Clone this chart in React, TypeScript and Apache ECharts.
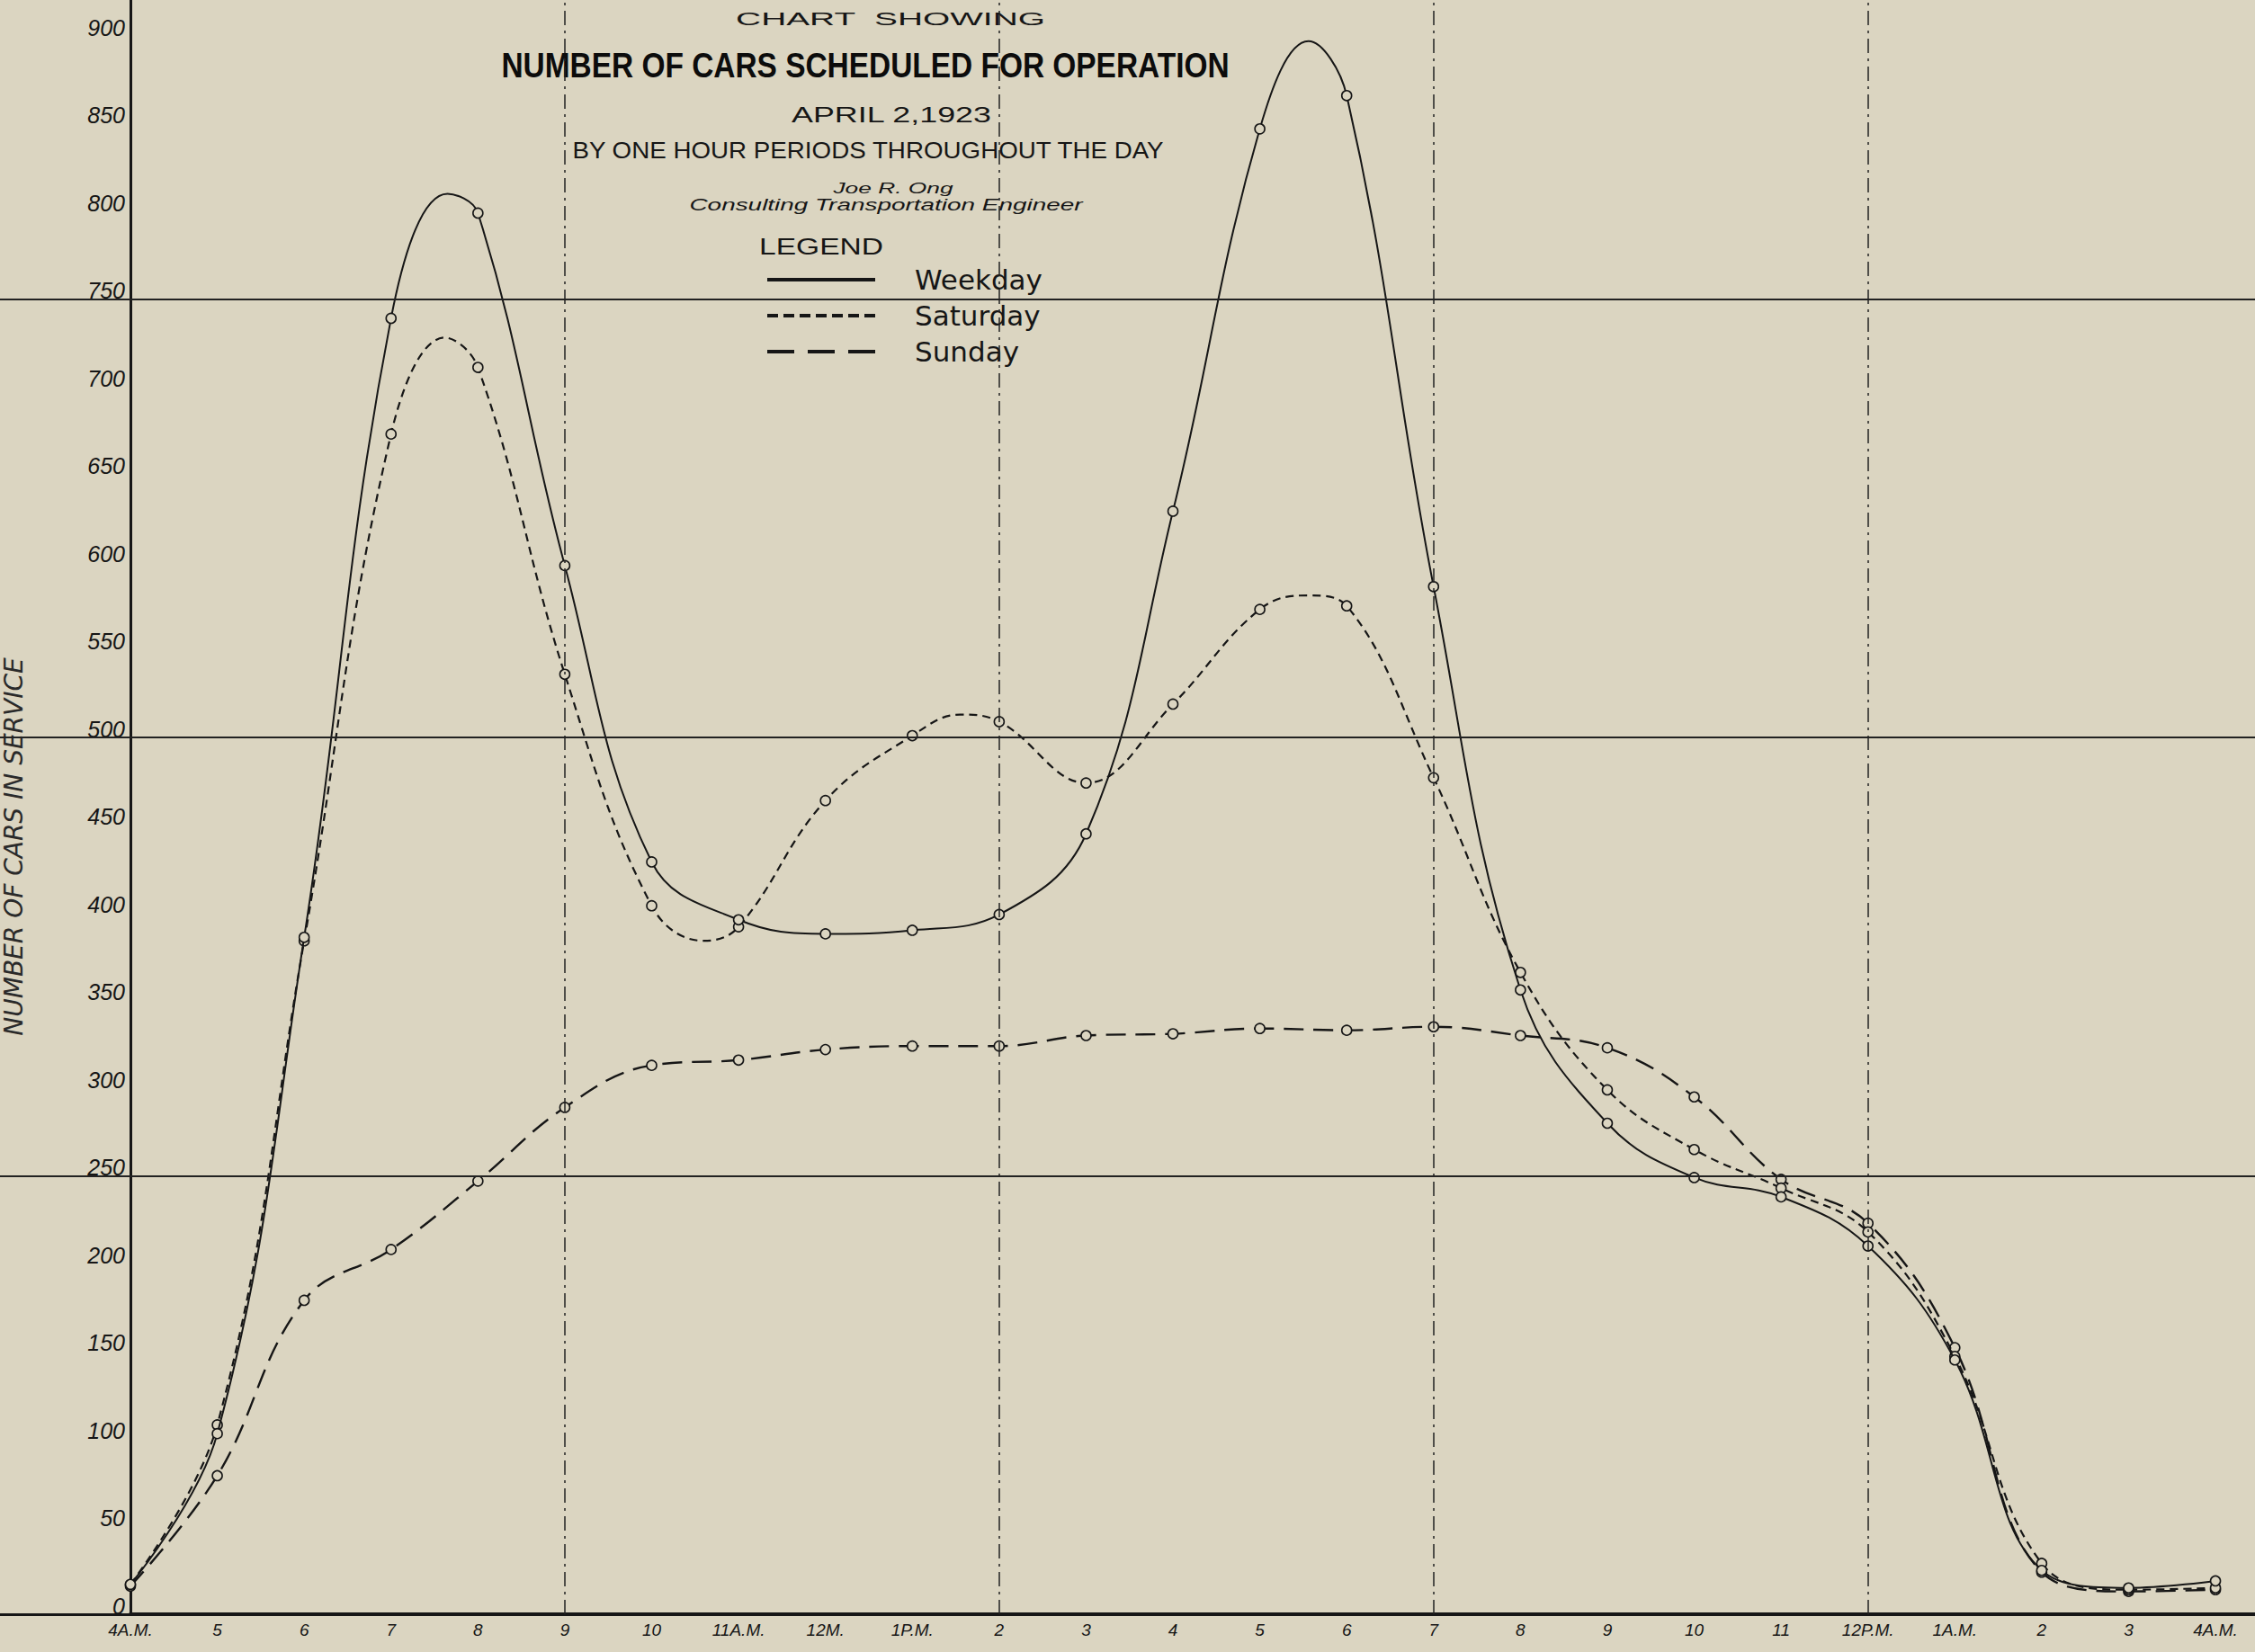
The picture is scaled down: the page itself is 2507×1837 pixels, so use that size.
import React, { useEffect, useRef } from 'react';
import * as echarts from 'echarts';

// ---- data ----
const hourLabels = [
  '4A.M.', '5', '6', '7', '8', '9', '10', '11A.M.', '12M.', '1P.M.', '2', '3', '4',
  '5', '6', '7', '8', '9', '10', '11', '12P.M.', '1A.M.', '2', '3', '4A.M.',
];
const hourOffsets = hourLabels.map((_, i) => i);

const weekdayHourly = [17, 103, 386, 739, 799, 598, 429, 396, 388, 390, 399, 445, 629, 847, 866, 586, 356, 280, 249, 238, 210, 145, 25, 15, 19];
const saturdayHourly = [17, 108, 384, 673, 711, 536, 404, 392, 464, 501, 509, 474, 519, 573, 575, 477, 366, 299, 265, 243, 218, 147, 29, 14, 15];
const sundayHourly = [16, 79, 179, 208, 247, 289, 313, 316, 322, 324, 324, 330, 331, 334, 333, 335, 330, 323, 295, 248, 223, 152, 24, 13, 14];

// crests / troughs of the drawn curves between hourly readings: [hour offset, cars]
const weekdayCrests: [number, number][] = [[3.65, 810], [13.56, 897]];
const saturdayCrests: [number, number][] = [[3.62, 728], [6.6, 384], [9.55, 513], [13.55, 581]];
const sundayCrests: [number, number][] = [];

const gridValues = [250, 500, 750];
const guideHours = [5, 10, 15, 20];
const yTickMax = 900;

const seriesNames = ['Weekday', 'Saturday', 'Sunday'];

// ---- styles ----
const BG = '#dbd5c1';
const INK = '#161616';
const SANS = '"Liberation Sans", Arial, sans-serif';
const WIDE = '"DejaVu Sans", "Liberation Sans", sans-serif';

const X_MAX = 24.455;
const Y_MAX = 920.5;
const AXIS_LEFT = 145;
const AXIS_BOTTOM = 42;

function buildData(hourly: number[], crests: [number, number][]) {
  const pts: any[] = hourly.map((v, i) => ({ value: [i, v] }));
  crests.forEach(([h, v]) => pts.push({ value: [h, v], symbol: 'none' }));
  pts.sort((a, b) => a.value[0] - b.value[0]);
  return pts;
}

function dashPath(dash: number, gap: number, total: number, h: number) {
  let d = '';
  for (let x = 0; x < total; x += dash + gap) {
    const e = Math.min(x + dash, total);
    d += `M${x},0H${e}V${h}H${x}Z `;
  }
  return 'path://' + d.trim();
}

export default function App() {
  const ref = useRef<HTMLDivElement>(null);

  useEffect(() => {
    if (!ref.current) return;
    const chart = echarts.init(ref.current, undefined, { renderer: 'svg' });

    const common = {
      type: 'line',
      smooth: 0.4,
      symbol: 'circle',
      symbolSize: 11,
      color: INK,
      itemStyle: { color: BG, borderColor: INK, borderWidth: 1.6 },
      emphasis: { disabled: true },
      silent: true,
    };

    const option: any = {
      animation: false,
      backgroundColor: BG,
      grid: [
        { left: AXIS_LEFT, right: 0, top: 0, bottom: AXIS_BOTTOM, containLabel: false, outerBoundsMode: 'none' },
        { left: 0, width: AXIS_LEFT, top: 0, bottom: AXIS_BOTTOM, containLabel: false, outerBoundsMode: 'none' },
      ],
      xAxis: [
        {
          type: 'value',
          min: 0,
          max: X_MAX,
          axisLine: { lineStyle: { color: INK, width: 4 } },
          axisTick: { show: false },
          splitLine: { show: false },
          axisLabel: {
            customValues: hourOffsets,
            formatter: (v: number) => hourLabels[Math.round(v)] ?? '',
            margin: 8,
            fontFamily: SANS,
            fontStyle: 'italic',
            fontSize: 19,
            color: INK,
          },
        },
        {
          type: 'value',
          gridIndex: 1,
          min: 0,
          max: 1,
          axisLine: { show: true, lineStyle: { color: INK, width: 3 } },
          axisTick: { show: false },
          axisLabel: { show: false },
          splitLine: { show: false },
        },
      ],
      yAxis: [
        {
          type: 'value',
          min: 0,
          max: Y_MAX,
          interval: 50,
          axisLine: { show: true, lineStyle: { color: INK, width: 3 } },
          axisTick: { show: false },
          splitLine: { show: false },
          axisLabel: {
            formatter: (v: number) => (v % 50 === 0 && v <= yTickMax ? String(v) : ''),
            margin: 6,
            fontFamily: SANS,
            fontStyle: 'italic',
            fontSize: 25,
            lineHeight: 18,
            verticalAlign: 'bottom',
            color: INK,
          },
          name: 'NUMBER OF CARS IN SERVICE',
          nameLocation: 'middle',
          nameGap: 116,
          nameTextStyle: {
            fontFamily: WIDE,
            fontStyle: 'italic',
            fontSize: 28,
            color: '#2a2a2a',
            padding: [0, 88, 0, 0],
          },
        },
        {
          type: 'value',
          gridIndex: 1,
          min: 0,
          max: Y_MAX,
          show: false,
        },
      ],
      legend: {
        orient: 'vertical',
        left: 848,
        top: 290,
        itemWidth: 120,
        itemHeight: 4,
        itemGap: 8,
        selectedMode: false,
        itemStyle: { color: INK, borderWidth: 0 },
        textStyle: {
          fontFamily: WIDE,
          fontSize: 31,
          color: INK,
          lineHeight: 32,
          padding: [0, 0, 0, 39],
        },
        data: [
          { name: seriesNames[0], icon: 'path://M0,0H120V4H0Z' },
          { name: seriesNames[1], icon: dashPath(12, 6, 120, 4) },
          { name: seriesNames[2], icon: dashPath(30, 15, 120, 4) },
        ],
      },
      graphic: [
        {
          type: 'text', x: 990, y: 21, scaleX: 1.85, silent: true,
          style: { text: 'CHART  SHOWING', font: `21px ${SANS}`, fill: INK, align: 'center', verticalAlign: 'middle' },
        },
        {
          type: 'text', x: 962, y: 73, scaleX: 0.88, silent: true,
          style: { text: 'NUMBER OF CARS SCHEDULED FOR OPERATION', font: `bold 38px ${SANS}`, fill: '#0c0c0c', align: 'center', verticalAlign: 'middle' },
        },
        {
          type: 'text', x: 991, y: 128, scaleX: 1.56, silent: true,
          style: { text: 'APRIL 2,1923', font: `23px ${SANS}`, fill: INK, align: 'center', verticalAlign: 'middle' },
        },
        {
          type: 'text', x: 965, y: 167, scaleX: 1.11, silent: true,
          style: { text: 'BY ONE HOUR PERIODS THROUGHOUT THE DAY', font: `25px ${SANS}`, fill: INK, align: 'center', verticalAlign: 'middle' },
        },
        {
          type: 'text', x: 993, y: 209, scaleX: 1.55, silent: true,
          style: { text: 'Joe R. Ong', font: `italic 17px ${SANS}`, fill: INK, align: 'center', verticalAlign: 'middle' },
        },
        {
          type: 'text', x: 985, y: 227, scaleX: 1.47, silent: true,
          style: { text: 'Consulting Transportation Engineer', font: `italic 19px ${SANS}`, fill: INK, align: 'center', verticalAlign: 'middle' },
        },
        {
          type: 'text', x: 913, y: 274, scaleX: 1.29, silent: true,
          style: { text: 'LEGEND', font: `26px ${SANS}`, fill: INK, align: 'center', verticalAlign: 'middle' },
        },
      ],
      series: [
        {
          ...common,
          name: seriesNames[2],
          data: buildData(sundayHourly, sundayCrests),
          lineStyle: { color: INK, width: 2.4, type: [22, 11] },
          z: 2,
        },
        {
          ...common,
          name: seriesNames[1],
          data: buildData(saturdayHourly, saturdayCrests),
          lineStyle: { color: INK, width: 2.2, type: [9, 6] },
          z: 3,
        },
        {
          ...common,
          name: seriesNames[0],
          data: buildData(weekdayHourly, weekdayCrests),
          lineStyle: { color: INK, width: 2, type: 'solid' },
          z: 4,
          markLine: {
            silent: true,
            symbol: 'none',
            label: { show: false },
            emphasis: { disabled: true },
            data: [
              ...gridValues.map((v) => ({ yAxis: v, lineStyle: { type: 'solid', width: 2, color: '#222' } })),
              ...guideHours.map((h) => ({ xAxis: h, lineStyle: { type: [16, 6, 3, 6], width: 1.5, color: '#222' } })),
            ],
          },
        },
        {
          type: 'line',
          name: 'gridlines-left',
          xAxisIndex: 1,
          yAxisIndex: 1,
          data: [],
          silent: true,
          markLine: {
            silent: true,
            symbol: 'none',
            label: { show: false },
            emphasis: { disabled: true },
            data: gridValues.map((v) => ({ yAxis: v, lineStyle: { type: 'solid', width: 2, color: '#222' } })),
          },
        },
      ],
    };

    chart.setOption(option);
    return () => chart.dispose();
  }, []);

  return (
    <div
      ref={ref}
      style={{ position: 'fixed', left: 0, top: 0, width: '2507px', height: '1837px', background: BG }}
    />
  );
}
